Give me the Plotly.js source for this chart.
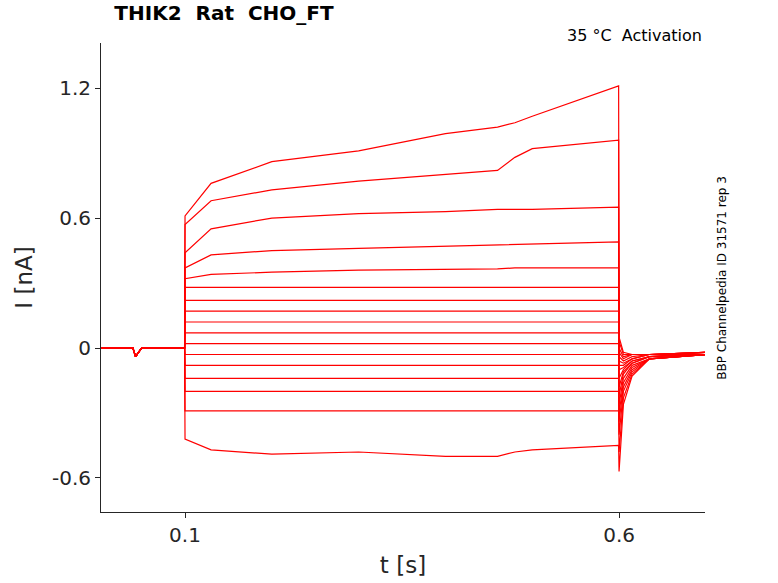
<!DOCTYPE html>
<html>
<head>
<meta charset="utf-8">
<script src="https://cdn.plot.ly/plotly-3.0.1.min.js"></script>
<style>body{margin:0;background:#fff}#graphDiv{width:778px;height:583px}</style>
</head>
<body>
<div id="graphDiv"></div>
<script>
// sample times (s)
const tValues = [0, 0.04, 0.043, 0.047, 0.05, 0.0995,
                 0.1, 0.13, 0.2, 0.3, 0.4, 0.46, 0.48, 0.5, 0.5995,
                 0.6, 0.605, 0.615, 0.635, 0.7];
const pre = [0, 0, -0.04, -0.02, 0, 0];

// step part (0.1 .. 0.6) per trace
const stepVals = [
  [0.61, 0.76, 0.86, 0.91, 0.99, 1.02, 1.04, 1.07, 1.21],
  [0.57, 0.68, 0.73, 0.77, 0.80, 0.82, 0.88, 0.92, 0.96],
  [0.44, 0.55, 0.60, 0.62, 0.63, 0.64, 0.64, 0.64, 0.65],
  [0.37, 0.43, 0.45, 0.46, 0.47, 0.475, 0.48, 0.48, 0.49],
  [0.32, 0.34, 0.35, 0.36, 0.365, 0.365, 0.37, 0.37, 0.37],
  [0.28, 0.28, 0.28, 0.28, 0.28, 0.28, 0.28, 0.28, 0.28],
  [0.22, 0.22, 0.22, 0.22, 0.22, 0.22, 0.22, 0.22, 0.22],
  [0.17, 0.17, 0.17, 0.17, 0.17, 0.17, 0.17, 0.17, 0.17],
  [0.12, 0.12, 0.12, 0.12, 0.12, 0.12, 0.12, 0.12, 0.12],
  [0.07, 0.07, 0.07, 0.07, 0.07, 0.07, 0.07, 0.07, 0.07],
  [0.02, 0.02, 0.02, 0.02, 0.02, 0.02, 0.02, 0.02, 0.02],
  [-0.03, -0.03, -0.03, -0.03, -0.03, -0.03, -0.03, -0.03, -0.03],
  [-0.08, -0.08, -0.08, -0.08, -0.08, -0.08, -0.08, -0.08, -0.08],
  [-0.14, -0.14, -0.14, -0.14, -0.14, -0.14, -0.14, -0.14, -0.14],
  [-0.20, -0.20, -0.20, -0.20, -0.20, -0.20, -0.20, -0.20, -0.20],
  [-0.29, -0.29, -0.29, -0.29, -0.29, -0.29, -0.29, -0.29, -0.29],
  [-0.42, -0.47, -0.49, -0.48, -0.50, -0.50, -0.48, -0.47, -0.45]
];

// tail after 0.6 s per trace
const tailVals = [
  [0.05, -0.02, -0.03, -0.03, -0.03],
  [0.03, -0.03, -0.03, -0.03, -0.03],
  [0, -0.04, -0.03, -0.03, -0.02],
  [-0.02, -0.05, -0.03, -0.03, -0.02],
  [-0.04, -0.06, -0.04, -0.03, -0.02],
  [-0.06, -0.07, -0.05, -0.03, -0.02],
  [-0.08, -0.08, -0.05, -0.03, -0.02],
  [-0.10, -0.09, -0.06, -0.04, -0.02],
  [-0.14, -0.10, -0.06, -0.04, -0.03],
  [-0.18, -0.11, -0.07, -0.04, -0.03],
  [-0.22, -0.12, -0.07, -0.04, -0.03],
  [-0.26, -0.14, -0.08, -0.05, -0.03],
  [-0.30, -0.16, -0.09, -0.05, -0.03],
  [-0.34, -0.18, -0.10, -0.05, -0.03],
  [-0.40, -0.20, -0.11, -0.05, -0.03],
  [-0.48, -0.23, -0.12, -0.05, -0.03],
  [-0.57, -0.26, -0.13, -0.05, -0.03]
];

const data = stepVals.map((s, i) => ({
  x: tValues,
  y: pre.concat(s, tailVals[i]),
  mode: 'lines',
  type: 'scatter',
  line: {color: 'red', width: 1.2},
  showlegend: false
}));

const font = {family: 'DejaVu Sans, sans-serif', color: '#262626'};

const layout = {
  width: 778, height: 583,
  margin: {l: 101, r: 73, t: 43, b: 71},
  paper_bgcolor: '#fff', plot_bgcolor: '#fff',
  title: {text: '<b>THIK2  Rat  CHO_FT</b>', x: 0.147, xanchor: 'left', y: 0.99, yanchor: 'top',
          font: Object.assign({size: 20}, font, {color: '#000'})},
  xaxis: {
    range: [0.0032, 0.699],
    tickvals: [0.1, 0.6], ticktext: ['0.1', '0.6'],
    ticks: 'outside', ticklen: 5, tickcolor: '#262626',
    showline: true, linecolor: '#262626', showgrid: false, zeroline: false,
    tickfont: Object.assign({size: 20}, font),
    title: {text: 't [s]', font: Object.assign({size: 23}, font), standoff: 10}
  },
  yaxis: {
    range: [-0.757, 1.408],
    tickvals: [-0.6, 0, 0.6, 1.2], ticktext: ['-0.6', '0', '0.6', '1.2'],
    ticks: 'outside', ticklen: 5, tickcolor: '#262626',
    showline: true, linecolor: '#262626', showgrid: false, zeroline: false,
    tickfont: Object.assign({size: 20}, font),
    title: {text: 'I [nA]', font: Object.assign({size: 23}, font), standoff: 12}
  },
  annotations: [
    {text: '35 °C  Activation', xref: 'paper', yref: 'paper', x: 0.998, y: 1.04,
     xanchor: 'right', yanchor: 'top', showarrow: false, font: Object.assign({size: 16}, font, {color: '#000'})},
    {text: 'BBP Channelpedia ID 31571 rep 3', xref: 'paper', yref: 'paper', x: 1.012, y: 0.5,
     xanchor: 'left', yanchor: 'middle', textangle: -90, showarrow: false,
     font: Object.assign({size: 12}, font, {color: '#000'})}
  ]
};

Plotly.newPlot('graphDiv', data, layout, {staticPlot: true});
</script>
</body>
</html>
